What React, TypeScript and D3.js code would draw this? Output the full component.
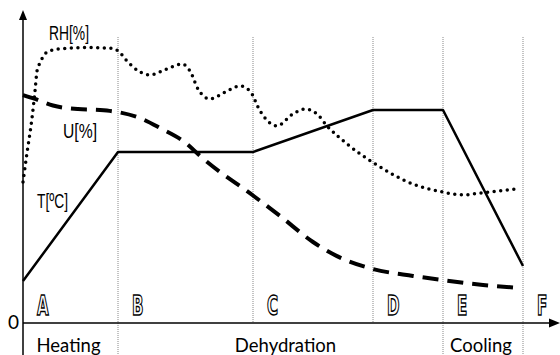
import React from "react";
import * as d3 from "d3";

// time (arbitrary units) vs. value (%)
const tempSeries: [number, number][] = [
  [0, 14], [19, 57], [46, 57], [70, 71], [84, 71], [100, 19],
];

const moistureSeries: [number, number][] = [
  [0, 76], [2.4, 74.7], [6, 72.5], [11, 71.3], [15.4, 71], [19, 70.3],
  [23.4, 68.3], [27.4, 65], [32.8, 59.7], [35.4, 55.7], [46, 42.5],
  [51.4, 35.7], [58, 27], [62.8, 22.3], [70, 18], [78, 15.7], [84, 14.3],
  [92, 12.7], [99, 11.7],
];

const rhSeries: [number, number][] = [
  [0, 47], [0.8, 56.7], [1.8, 68.3], [2.4, 77.3], [2.8, 84], [3.4, 86.7],
  [4.4, 89.7], [5.4, 90.7], [8, 91.5], [13, 91.8], [17.4, 91.6], [19, 90.7],
  [20.8, 87.3], [23.4, 83.7], [25.4, 82.7], [28.8, 84.7], [31.8, 86.3],
  [33.4, 84], [35, 78], [37.4, 74.7], [40.8, 77.3], [43.4, 79], [45.4, 77.3],
  [47.4, 70.7], [50.8, 65.7], [54, 69.7], [56.4, 71.3], [58.8, 69.7],
  [60.8, 65.7], [64.8, 59.7], [70.2, 53.3], [78, 46.3], [83.8, 43.7],
  [88, 42.7], [91.4, 43.3], [98.8, 44.7],
];

const phaseStarts = [0, 19, 46, 70, 84, 100];
const phaseLetters = ["A", "B", "C", "D", "E", "F"];
// boundaries whose dotted line runs on below the axis
const stageBreaks = [19, 84, 100];
const stageNames = ["Heating", "Dehydration", "Cooling"];
const stageSpans: [number, number][] = [[0, 19], [19, 84], [84, 100]];

const seriesLabels = [
  { text: "RH[%]", t: 5.2, v: 94.3, w: 40 },
  { text: "U[%]", t: 8, v: 61.7, w: 34 },
  { text: "T[ºC]", t: 2.8, v: 38.3, w: 31 },
];

const W = 560;
const H = 355;

export default function App() {
  const x = d3.scaleLinear().domain([0, 100]).range([23, 523]);
  const y = d3.scaleLinear().domain([0, 100]).range([323, 23]);
  const x0 = x(0);
  const y0 = y(0);

  const lineLinear = d3
    .line<[number, number]>()
    .x((d) => x(d[0]))
    .y((d) => y(d[1]));
  const lineSmooth = d3
    .line<[number, number]>()
    .x((d) => x(d[0]))
    .y((d) => y(d[1]))
    .curve(d3.curveMonotoneX);

  const labelFont = "'Liberation Sans Narrow', 'Liberation Sans', Arial, sans-serif";

  return (
    <svg
      width={W}
      height={H}
      style={{ position: "absolute", left: 0, top: 0, background: "#fff" }}
    >
      {/* phase separators */}
      {phaseStarts.slice(1).map((t) => (
        <line
          key={"sep" + t}
          x1={x(t)}
          x2={x(t)}
          y1={37}
          y2={stageBreaks.includes(t) ? H : y0}
          stroke="#888"
          strokeWidth={1}
          strokeDasharray="1 1"
        />
      ))}

      {/* axes */}
      <line x1={x0} x2={x0} y1={H} y2={18} stroke="#000" strokeWidth={1.5} />
      <path d={`M${x0},10 L${x0 - 4},20 L${x0 + 4},20 Z`} fill="#000" />
      <line x1={x0} x2={W - 9} y1={y0} y2={y0} stroke="#000" strokeWidth={1.5} />
      <path d={`M${W},${y0} L${W - 11},${y0 - 4.5} L${W - 11},${y0 + 4.5} Z`} fill="#000" />
      <text
        x={13.5}
        y={y0 + 6}
        textAnchor="middle"
        fontFamily="Lato, 'Open Sans', sans-serif"
        fontSize={19}
      >
        0
      </text>

      {/* series */}
      <path
        d={lineSmooth(rhSeries) ?? ""}
        fill="none"
        stroke="#000"
        strokeWidth={3.5}
        strokeLinecap="round"
        strokeDasharray="0 6.6"
      />
      <path
        d={lineSmooth(moistureSeries) ?? ""}
        fill="none"
        stroke="#000"
        strokeWidth={4}
        strokeDasharray="16 9"
      />
      <path
        d={lineLinear(tempSeries) ?? ""}
        fill="none"
        stroke="#000"
        strokeWidth={2.5}
        strokeLinejoin="round"
      />

      {/* series labels */}
      {seriesLabels.map((l) => (
        <text
          key={l.text}
          x={x(l.t)}
          y={y(l.v)}
          fontFamily={labelFont}
          fontSize={21}
          textLength={l.w}
          lengthAdjust="spacingAndGlyphs"
        >
          {l.text}
        </text>
      ))}

      {/* phase letters (outlined) */}
      {phaseStarts.map((t, i) => (
        <text
          key={"L" + i}
          transform={`translate(${x(t) + 14},${y0 - 8}) scale(0.62,1)`}
          fontFamily="'Liberation Sans Narrow', 'DejaVu Sans Condensed', sans-serif"
          fontWeight="bold"
          fontSize={27}
          fill="#fff"
          stroke="#000"
          strokeWidth={1.5}
        >
          {phaseLetters[i]}
        </text>
      ))}

      {/* stage names */}
      {stageNames.map((name, i) => (
        <text
          key={name}
          x={x((stageSpans[i][0] + stageSpans[i][1]) / 2) + (i === 1 ? 5 : -2)}
          y={y0 + 29}
          textAnchor="middle"
          fontFamily="Lato, 'Open Sans', sans-serif"
          fontSize={18.5}
        >
          {name}
        </text>
      ))}
    </svg>
  );
}
